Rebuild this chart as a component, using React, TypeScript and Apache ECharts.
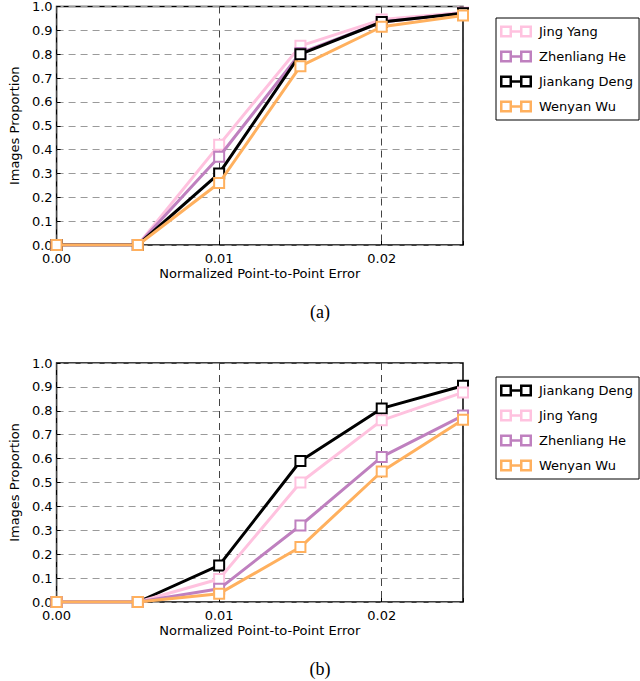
import React, { useEffect, useRef } from "react";
import * as echarts from "echarts";

const xs = [0, 0.005, 0.01, 0.015, 0.02, 0.025];
const xTicks = [0, 0.01, 0.02];

// Plot (a)
const jingYangA = [0, 0, 0.42, 0.835, 0.945, 0.975];
const zhenliangHeA = [0, 0, 0.37, 0.805, 0.935, 0.972];
const jiankangDengA = [0, 0, 0.3, 0.8, 0.935, 0.972];
const wenyanWuA = [0, 0, 0.26, 0.75, 0.915, 0.962];

// Plot (b)
const jiankangDengB = [0, 0, 0.153, 0.59, 0.81, 0.905];
const jingYangB = [0, 0, 0.096, 0.5, 0.76, 0.877];
const zhenliangHeB = [0, 0, 0.055, 0.32, 0.607, 0.78];
const wenyanWuB = [0, 0, 0.035, 0.23, 0.546, 0.763];

const orderA = ["Jing Yang", "Zhenliang He", "Jiankang Deng", "Wenyan Wu"];
const orderB = ["Jiankang Deng", "Jing Yang", "Zhenliang He", "Wenyan Wu"];
const panelTitles = ["(a)", "(b)"];

const COLORS: Record<string, string> = {
  "Jing Yang": "#ffc2df",
  "Zhenliang He": "#bf80bf",
  "Jiankang Deng": "#000000",
  "Wenyan Wu": "#ffb05e",
};

const dataA: Record<string, number[]> = {
  "Jing Yang": jingYangA,
  "Zhenliang He": zhenliangHeA,
  "Jiankang Deng": jiankangDengA,
  "Wenyan Wu": wenyanWuA,
};
const dataB: Record<string, number[]> = {
  "Jiankang Deng": jiankangDengB,
  "Jing Yang": jingYangB,
  "Zhenliang He": zhenliangHeB,
  "Wenyan Wu": wenyanWuB,
};

const FONT = "DejaVu Sans";
const ICON =
  "path://M0 0H12V12H0Z M2.5 2.5V9.5H9.5V2.5Z M12 4.75H20V7.25H12Z M20 0H32V12H20Z M22.5 2.5V9.5H29.5V2.5Z";

export default function App() {
  const ref = useRef<HTMLDivElement>(null);
  useEffect(() => {
    if (!ref.current) return;
    const chart = echarts.init(ref.current, null, { renderer: "svg" });

    const grids = [
      { left: 43, top: 6, width: 420, height: 239 },
      { left: 43, top: 363, width: 420, height: 239 },
    ].map((g) => ({
      ...g,
      show: true,
      borderColor: "#000",
      borderWidth: 1.5,
      backgroundColor: "transparent",
      containLabel: false,
    }));

    const isTick = (v: number) =>
      xTicks.some((t) => Math.abs(t - v) < 1e-9);

    const xAxes = [0, 1].map((i) => ({
      gridIndex: i,
      type: "value",
      min: 0,
      max: 0.025,
      interval: 0.01,
      name: "Normalized Point-to-Point Error",
      nameLocation: "middle",
      nameGap: 22,
      nameTextStyle: { fontFamily: FONT, fontSize: 13, color: "#000" },
      axisLine: { show: false },
      axisTick: {
        show: true,
        inside: true,
        length: 4,
        lineStyle: { color: "#000" },
      },
      axisLabel: {
        fontFamily: FONT,
        fontSize: 13,
        color: "#000",
        margin: 7,
        formatter: (v: number) => (isTick(v) ? v.toFixed(2) : ""),
      },
      splitLine: {
        show: true,
        lineStyle: { color: "#444", width: 1, type: [7, 5] },
      },
    }));

    const yAxes = [0, 1].map((i) => ({
      gridIndex: i,
      type: "value",
      min: 0,
      max: 1,
      interval: 0.1,
      name: "Images Proportion",
      nameLocation: "middle",
      nameGap: 33,
      nameTextStyle: { fontFamily: FONT, fontSize: 13, color: "#000" },
      axisLine: { show: false },
      axisTick: {
        show: true,
        inside: true,
        length: 4,
        lineStyle: { color: "#000" },
      },
      axisLabel: {
        fontFamily: FONT,
        fontSize: 13,
        color: "#000",
        margin: 4,
        formatter: (v: number) => v.toFixed(1),
      },
      splitLine: {
        show: true,
        lineStyle: { color: "#9a9a9a", width: 1, type: [7, 5] },
      },
    }));

    const mkSeries = (
      order: string[],
      data: Record<string, number[]>,
      idx: number
    ) =>
      order.map((name, k) => ({
        name,
        type: "line",
        xAxisIndex: idx,
        yAxisIndex: idx,
        data: xs.map((x, j) => [x, data[name][j]]),
        symbol: "emptyRect",
        symbolSize: 10,
        showAllSymbol: true,
        z: 2 + k,
        lineStyle: { color: COLORS[name], width: 3 },
        itemStyle: { color: COLORS[name], borderWidth: 2.5 },
        clip: true,
      }));

    const legendBase = (order: string[], top: number) => ({
      orient: "vertical",
      left: 496,
      top,
      padding: [7, 6, 7, 4],
      itemWidth: 32,
      itemHeight: 12,
      itemGap: 12,
      borderColor: "#000",
      borderWidth: 1,
      backgroundColor: "#fff",
      textStyle: {
        fontFamily: FONT,
        fontSize: 13,
        color: "#000",
        padding: [0, 0, 0, 2],
      },
      data: order.map((name) => ({
        name,
        icon: ICON,
        itemStyle: { color: COLORS[name], borderWidth: 0 },
      })),
    });

    chart.setOption({
      animation: false,
      backgroundColor: "#fff",
      title: [
        {
          text: panelTitles[0],
          left: "center",
          top: 303,
          padding: 0,
          textStyle: {
            fontFamily: "Liberation Serif",
            fontSize: 18,
            fontWeight: "normal",
            color: "#000",
          },
        },
        {
          text: panelTitles[1],
          left: "center",
          top: 660,
          padding: 0,
          textStyle: {
            fontFamily: "Liberation Serif",
            fontSize: 18,
            fontWeight: "normal",
            color: "#000",
          },
        },
      ],
      grid: grids,
      xAxis: xAxes,
      yAxis: yAxes,
      legend: [legendBase(orderA, 18), legendBase(orderB, 377)],
      series: [...mkSeries(orderA, dataA, 0), ...mkSeries(orderB, dataB, 1)],
    });

    return () => chart.dispose();
  }, []);

  return (
    <div
      ref={ref}
      style={{
        position: "absolute",
        left: 0,
        top: 0,
        width: 640,
        height: 681,
      }}
    />
  );
}
